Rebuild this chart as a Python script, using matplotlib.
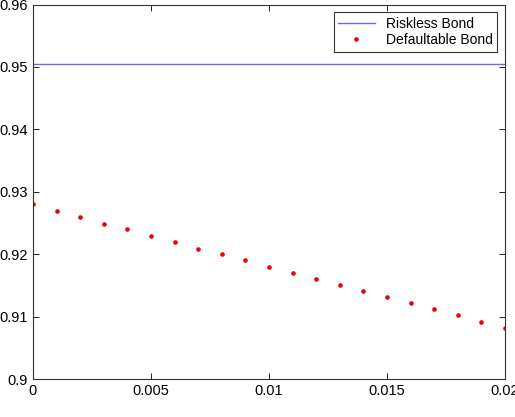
import numpy as np
import matplotlib.pyplot as plt

plt.rcParams['font.family'] = ['Liberation Sans', 'DejaVu Sans']

# spread values on the x axis
spread = [0.0, 0.001, 0.002, 0.003, 0.004, 0.005, 0.006, 0.007, 0.008, 0.009, 0.010,
          0.011, 0.012, 0.013, 0.014, 0.015, 0.016, 0.017, 0.018, 0.019, 0.020]
riskless_price = [0.9505, 0.9505]
riskless_x = [0.0, 0.02]
defaultable_price = [0.9280, 0.9270, 0.9259, 0.9249, 0.9240, 0.9230, 0.9219, 0.9209,
                     0.9201, 0.9190, 0.9180, 0.9170, 0.9161, 0.9151, 0.9141, 0.9132,
                     0.9122, 0.9112, 0.9103, 0.9092, 0.9082]
xticks = [0, 0.005, 0.01, 0.015, 0.02]
xtick_labels = ['0', '0.005', '0.01', '0.015', '0.02']
yticks = [0.9, 0.91, 0.92, 0.93, 0.94, 0.95, 0.96]
ytick_labels = ['0.9', '0.91', '0.92', '0.93', '0.94', '0.95', '0.96']

fig = plt.figure(figsize=(5.15, 4.17), dpi=100)
ax = fig.add_axes([0.064, 0.091, 0.9166, 0.898])

ax.plot(riskless_x, riskless_price, color='#6b6bec', lw=1.0, label='Riskless Bond')
ax.plot(spread, defaultable_price, ls='none', marker='o', ms=2.3, color='#ee0000',
        mec='#ee0000', label='Defaultable Bond')

ax.set_xlim(0, 0.02)
ax.set_ylim(0.9, 0.96)
ax.set_xticks(xticks)
ax.set_xticklabels(xtick_labels)
ax.set_yticks(yticks)
ax.set_yticklabels(ytick_labels)
ax.tick_params(direction='in', top=True, right=True, labelsize=10.5, length=4, width=0.6)
for s in ax.spines.values():
    s.set_linewidth(0.8)
    s.set_color('#333333')

leg = ax.legend(loc='upper right', fontsize=10, frameon=True, fancybox=False,
                edgecolor='black', borderpad=0.35, handlelength=2.6,
                labelspacing=0.15, borderaxespad=0.55, markerscale=1.0)
leg.get_frame().set_linewidth(0.8)

fig.savefig('out.png', dpi=100)
